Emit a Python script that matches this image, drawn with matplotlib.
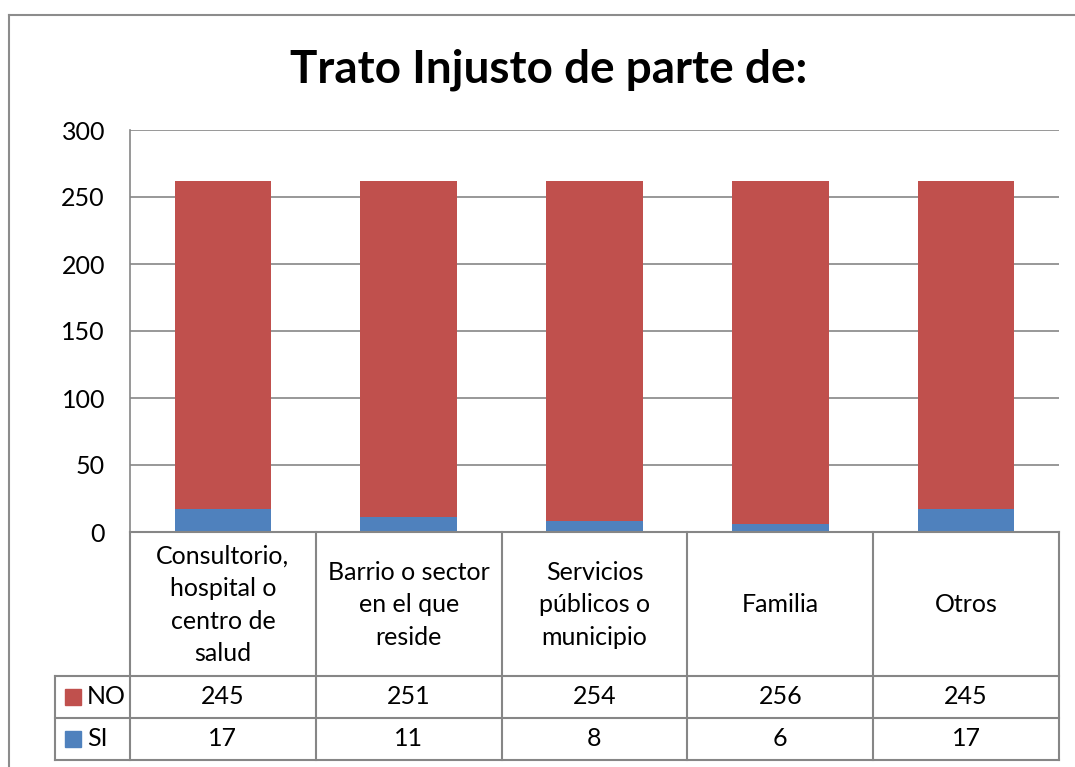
import matplotlib.pyplot as plt
from matplotlib.patches import Rectangle
from matplotlib.lines import Line2D

categories = ["Consultorio,\nhospital o\ncentro de\nsalud", "Barrio o sector\nen el que\nreside",
              "Servicios\npúblicos o\nmunicipio", "Familia", "Otros"]
si_values = [17, 11, 8, 6, 17]
no_values = [245, 251, 254, 256, 245]
series_names = ["NO", "SI"]
title = "Trato Injusto de parte de:"
yticks = [0, 50, 100, 150, 200, 250, 300]

RED = "#C0504D"
BLUE = "#4F81BD"
GRID = "#868686"
FONT = "Lato"

W, H = 1075, 767
fig = plt.figure(figsize=(W / 100, H / 100), dpi=100)


def fx(px):
    return px / W


def fy(py):
    return 1 - py / H


# outer chart border (right/bottom are cut off in the reference)
fig.add_artist(Line2D([fx(9), fx(9)], [fy(15), fy(767)], color="#8c8c8c", lw=1.5))
fig.add_artist(Line2D([fx(9), fx(1075)], [fy(15), fy(15)], color="#8c8c8c", lw=1.5))

# plot area
left, right, top, bottom = 130, 1059, 130, 532
ax = fig.add_axes([fx(left), fy(bottom), fx(right - left), (bottom - top) / H])
x = range(len(categories))
ax.bar(x, si_values, width=0.52, color=BLUE, zorder=3)
ax.bar(x, no_values, width=0.52, bottom=si_values, color=RED, zorder=3)
ax.set_xlim(-0.5, len(categories) - 0.5)
ax.set_ylim(0, 300)
ax.set_yticks(yticks)
ax.set_yticklabels([str(t) for t in yticks], fontsize=18, fontfamily=FONT)
ax.tick_params(axis="y", length=0, pad=18)
ax.set_xticks([])
ax.grid(axis="y", color=GRID, lw=1.2, zorder=0)
for s in ["top", "right", "bottom"]:
    ax.spines[s].set_visible(False)
ax.spines["left"].set_color(GRID)
ax.spines["left"].set_linewidth(1.2)

fig.text(fx(549), fy(70), title, ha="center", va="center", fontsize=33,
         fontweight="bold", fontfamily=FONT)

# data table below the axis
col_w = (right - left) / len(categories)
row_cat, row_no, row_si = 676, 718, 760
lc = dict(color=GRID, lw=1.5)
fig.add_artist(Line2D([fx(left), fx(right)], [fy(bottom), fy(bottom)], **lc))
for yy in [row_cat, row_no, row_si]:
    fig.add_artist(Line2D([fx(55), fx(right)], [fy(yy), fy(yy)], **lc))
fig.add_artist(Line2D([fx(55), fx(55)], [fy(row_cat), fy(row_si)], **lc))
for i in range(len(categories) + 1):
    xx = left + i * col_w
    fig.add_artist(Line2D([fx(xx), fx(xx)], [fy(bottom), fy(row_si)], **lc))

for i, cat in enumerate(categories):
    cx = left + (i + 0.5) * col_w
    fig.text(fx(cx), fy((bottom + row_cat) / 2 + 1), cat, ha="center", va="center",
             fontsize=18, fontfamily=FONT, linespacing=1.5)
    fig.text(fx(cx), fy((row_cat + row_no) / 2), str(no_values[i]), ha="center",
             va="center", fontsize=18, fontfamily=FONT)
    fig.text(fx(cx), fy((row_no + row_si) / 2), str(si_values[i]), ha="center",
             va="center", fontsize=18, fontfamily=FONT)

for name, color, (y0, y1) in zip(series_names, [RED, BLUE],
                                 [(row_cat, row_no), (row_no, row_si)]):
    yc = (y0 + y1) / 2
    fig.add_artist(Rectangle((fx(65), fy(yc + 8)), fx(16), 16 / H, color=color))
    fig.text(fx(87), fy(yc), name, ha="left", va="center", fontsize=18, fontfamily=FONT)

fig.savefig("out.png", dpi=100)
